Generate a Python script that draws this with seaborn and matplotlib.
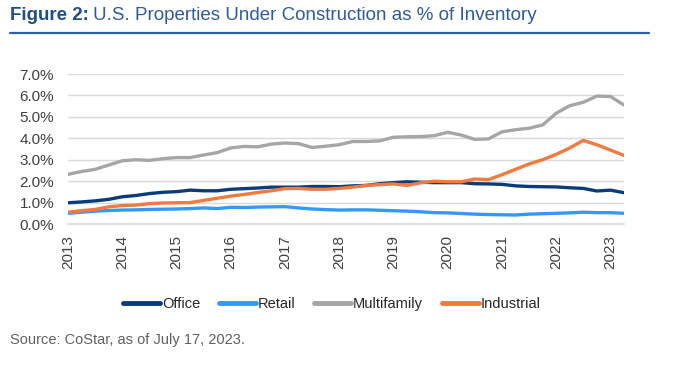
import numpy as np
import pandas as pd
import matplotlib
matplotlib.use("Agg")
import matplotlib.pyplot as plt
from matplotlib.lines import Line2D
import seaborn as sns

# ---- data (quarterly, 2013 Q1 .. 2023 Q2) ----
start_year = 2013
office = [0.99, 1.03, 1.08, 1.15, 1.27, 1.33, 1.42, 1.48, 1.51, 1.58, 1.55, 1.55,
          1.62, 1.65, 1.68, 1.72, 1.72, 1.72, 1.75, 1.75, 1.74, 1.78, 1.80, 1.88,
          1.93, 1.97, 1.95, 1.93, 1.93, 1.93, 1.88, 1.87, 1.85, 1.78, 1.75, 1.74,
          1.73, 1.69, 1.66, 1.54, 1.58, 1.46]
retail = [0.50, 0.55, 0.60, 0.63, 0.65, 0.66, 0.68, 0.69, 0.70, 0.72, 0.75, 0.72,
          0.78, 0.77, 0.79, 0.80, 0.81, 0.75, 0.70, 0.67, 0.65, 0.66, 0.66, 0.64,
          0.62, 0.60, 0.57, 0.53, 0.52, 0.49, 0.46, 0.44, 0.43, 0.42, 0.46, 0.48,
          0.50, 0.52, 0.55, 0.53, 0.53, 0.50]
multifamily = [2.32, 2.45, 2.55, 2.75, 2.95, 3.00, 2.97, 3.05, 3.10, 3.10, 3.22, 3.33,
               3.55, 3.62, 3.60, 3.73, 3.78, 3.75, 3.57, 3.63, 3.70, 3.85, 3.85, 3.88,
               4.05, 4.07, 4.08, 4.12, 4.28, 4.15, 3.95, 3.97, 4.30, 4.40, 4.47, 4.62,
               5.17, 5.52, 5.68, 5.97, 5.95, 5.55]
industrial = [0.55, 0.62, 0.68, 0.80, 0.86, 0.88, 0.95, 0.98, 0.99, 1.00, 1.10, 1.20,
              1.30, 1.38, 1.47, 1.55, 1.65, 1.66, 1.62, 1.62, 1.66, 1.72, 1.80, 1.84,
              1.87, 1.80, 1.92, 2.00, 1.97, 1.97, 2.10, 2.07, 2.30, 2.55, 2.80, 3.00,
              3.25, 3.55, 3.90, 3.70, 3.45, 3.20]
series_names = ["Office", "Retail", "Multifamily", "Industrial"]
year_ticks = list(range(2013, 2024))
y_ticks = [0, 1, 2, 3, 4, 5, 6, 7]

colors = {"Office": "#0C3B7D", "Retail": "#3399FF",
          "Multifamily": "#A6A6A6", "Industrial": "#F07B3F"}

n = len(office)
x = start_year + np.arange(n) / 4.0
df = pd.concat([
    pd.DataFrame({"x": x, "value": vals, "series": name})
    for name, vals in zip(series_names, [office, retail, multifamily, industrial])
])

sns.set_style("white")
plt.rcParams["font.family"] = ["Liberation Sans", "DejaVu Sans"]

fig = plt.figure(figsize=(7, 3.65), dpi=100)
ax = fig.add_axes([68 / 700, 1 - 224 / 365, (624 - 68) / 700, (224 - 74) / 365])

sns.lineplot(data=df, x="x", y="value", hue="series", hue_order=series_names,
             palette=colors, linewidth=2.4, ax=ax, legend=False)

ax.set_xlim(start_year, x[-1])
ax.set_ylim(0, 7)
ax.set_yticks(y_ticks)
ax.set_yticklabels([f"{v:.1f}%" for v in y_ticks])
ax.set_xticks(year_ticks)
ax.set_xticklabels([str(y) for y in year_ticks], rotation=90)
ax.set_xlabel("")
ax.set_ylabel("")

ax.grid(axis="y", color="#D9D9D9", linewidth=1.0)
ax.grid(axis="x", visible=False)
ax.set_axisbelow(True)
for s in ["top", "right", "left"]:
    ax.spines[s].set_visible(False)
ax.spines["bottom"].set_color("#D9D9D9")
ax.spines["bottom"].set_linewidth(1.2)
ax.tick_params(axis="x", length=5, color="#D9D9D9", width=1.2, pad=3,
               labelsize=11, labelcolor="#404040")
ax.tick_params(axis="y", length=0, pad=10, labelsize=11, labelcolor="#404040")

# legend
handles = [Line2D([], [], color=colors[nm], linewidth=3.5) for nm in series_names]
fig.legend(handles, series_names, loc="center", bbox_to_anchor=(332 / 700, 1 - 304 / 365),
           ncol=4, frameon=False, fontsize=10.5, handlelength=2.5, handletextpad=0.15,
           columnspacing=1.3, labelcolor="#262626")

# title
t1 = fig.text(10 / 700, 1 - 15 / 365, "Figure 2:", fontsize=13.5, fontweight="bold",
              color="#1F4E8C", va="center", ha="left")
fig.canvas.draw()
bb = t1.get_window_extent()
fig.text((bb.x1 + 4) / 700, 1 - 15 / 365, "U.S. Properties Under Construction as % of Inventory",
         fontsize=13.5, color="#2E5C9E", va="center", ha="left")
fig.add_artist(Line2D([10 / 700, 649 / 700], [1 - 33 / 365, 1 - 33 / 365],
                      color="#2F5FA8", linewidth=1.6, transform=fig.transFigure))

# source
fig.text(10 / 700, 1 - 340 / 365, "Source: CoStar, as of July 17, 2023.", fontsize=10.5,
         color="#606060", va="center", ha="left")

fig.savefig("out.png", dpi=100)
